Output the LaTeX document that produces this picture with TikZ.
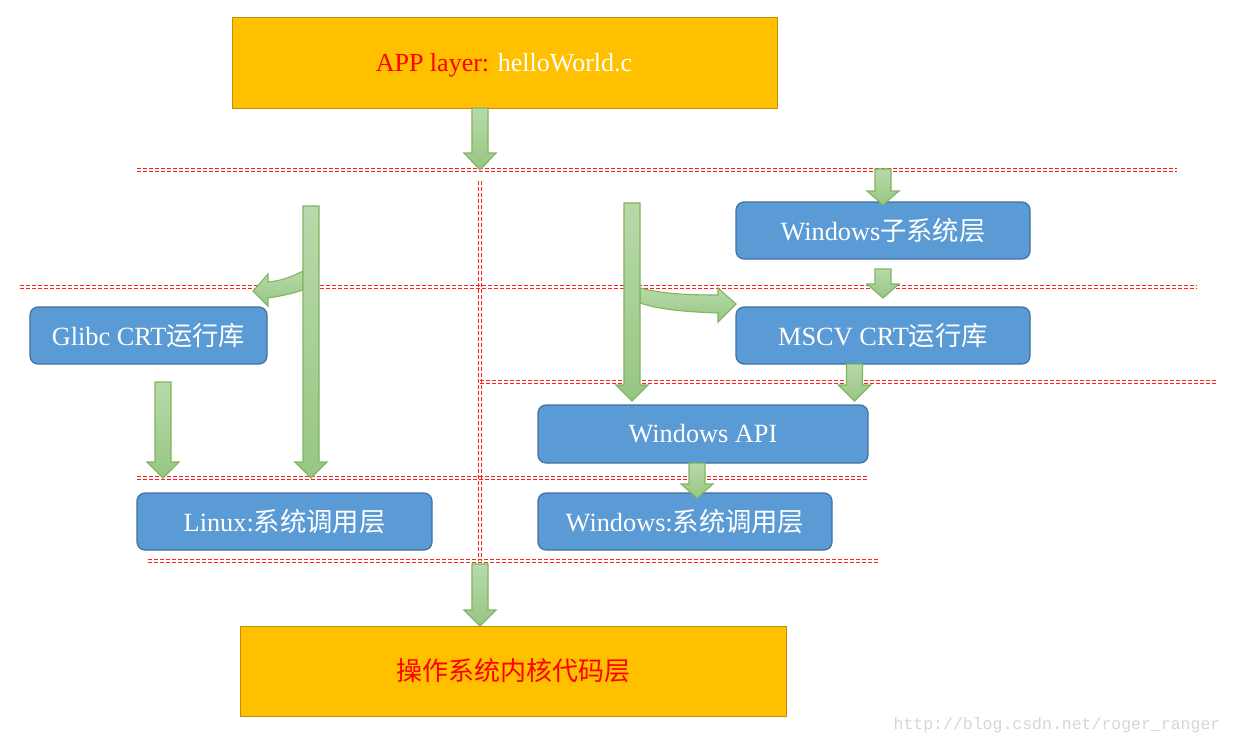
\documentclass[tikz,border=0pt]{standalone}
\usepackage{fontspec}
\setmainfont{Liberation Serif}
\setmonofont{Liberation Mono}
\newfontfamily\cjk{Noto Sans CJK SC}

\definecolor{gold}{HTML}{FFC000}
\definecolor{goldborder}{HTML}{C09000}
\definecolor{bluefill}{HTML}{5B9BD5}
\definecolor{blueborder}{HTML}{41719C}
\definecolor{greenlight}{HTML}{B8D9AA}
\definecolor{greendark}{HTML}{98C683}
\definecolor{greenborder}{HTML}{7FB65F}
\definecolor{dashred}{HTML}{FF2020}
\definecolor{wmgray}{HTML}{DAD6CF}

\tikzset{
  goldbox/.style={draw=goldborder, fill=gold, line width=1pt, inner sep=0pt,
    font=\fontsize{26}{30}\selectfont},
  bbox/.style={draw=blueborder, fill=bluefill, line width=1.2pt, rounded corners=8pt,
    inner sep=0pt, text=white, font=\fontsize{26.3}{30}\selectfont},
  garrow/.style={draw=greenborder, line width=1.1pt, top color=greenlight, bottom color=greendark},
  sepline/.style={draw=dashred, line width=1.3pt, dash pattern=on 4pt off 2pt},
}

% horizontal double dashed line: x1, y, x2
\newcommand\hsep[3]{%
  \path[sepline] (#1,#2-1.4) -- (#3,#2-1.4);
  \path[sepline] (#1,#2+1.4) -- (#3,#2+1.4);}
% vertical double dashed line: x, y1, y2
\newcommand\vsep[3]{%
  \path[sepline] (#1-1.4,#2) -- (#1-1.4,#3);
  \path[sepline] (#1+1.4,#2) -- (#1+1.4,#3);}

% x, ytop, head-top y, tip y
\newcommand\blockarr[4]{%
  \path[garrow] (#1-8,#2) -- (#1+8,#2) -- (#1+8,#3) -- (#1+16,#3) -- (#1,#4)
     -- (#1-16,#3) -- (#1-8,#3) -- cycle;}

\begin{document}
\begin{tikzpicture}[x=1pt,y=-1pt]
\useasboundingbox (0,0) rectangle (1233,745);
\fill[white] (0,0) rectangle (1233,745);

% separator lines
\hsep{137}{170}{1177}
\hsep{20}{287}{1197}
\hsep{480}{382}{1216}
\hsep{137}{478}{868}
\hsep{148}{561}{880}
\vsep{480}{181}{561}

% nodes
\node[goldbox, minimum width=545pt, minimum height=91pt] (app) at (504.5,62.5) {};
\node[font=\fontsize{26}{30}\selectfont, inner sep=0pt] (apptext) at (504,65)
  {\textcolor{red}{APP layer:} \textcolor{white}{helloWorld.c}};
\node[goldbox, minimum width=546pt, minimum height=90pt, text=red] (kernel) at (513,671)
  {\cjk 操作系统内核代码层};

\node[bbox, minimum width=294pt, minimum height=57pt] (wsub) at (883,230.5)
  {Windows{\cjk 子系统层}};
\node[bbox, minimum width=237pt, minimum height=57pt] (glibc) at (148.5,335.5)
  {Glibc CRT{\cjk 运行库}};
\node[bbox, minimum width=294pt, minimum height=57pt] (mscv) at (883,335.5)
  {MSCV CRT{\cjk 运行库}};
\node[bbox, minimum width=330pt, minimum height=58pt] (wapi) at (703,434)
  {Windows API};
\node[bbox, minimum width=295pt, minimum height=57pt] (lsys) at (284.5,521.5)
  {Linux:{\cjk 系统调用层}};
\node[bbox, minimum width=294pt, minimum height=57pt] (wsys) at (685,521.5)
  {Windows:{\cjk 系统调用层}};

% curved arrows
\path[garrow] (303,271) .. controls (292,277) and (280,281) .. (268,282)
  -- (268,274) -- (253,291) -- (268,306) -- (268,298)
  .. controls (282,296) and (294,293) .. (303,290) -- cycle;
\path[garrow] (640,288) .. controls (662,294) and (690,295) .. (718,295)
  -- (718,288) -- (736,304) -- (718,322) -- (718,313)
  .. controls (690,312) and (660,310) .. (640,303) -- cycle;

% block arrows
\blockarr{480}{108}{153}{170}
\blockarr{311}{206}{462}{478}
\blockarr{163}{382}{462}{478}
\blockarr{632}{203}{385}{401}
\blockarr{883}{169}{191}{205}
\blockarr{883}{269}{284}{298}
\blockarr{854.5}{364}{385}{401}
\blockarr{697}{463}{484}{498}
\blockarr{480}{564}{610}{626}

% watermark
\node[text=wmgray, font=\ttfamily\fontsize{16.5}{18}\selectfont, inner sep=0pt] (wm) at (1057,725)
  {http://blog.csdn.net/roger\_ranger};
\end{tikzpicture}
\end{document}
